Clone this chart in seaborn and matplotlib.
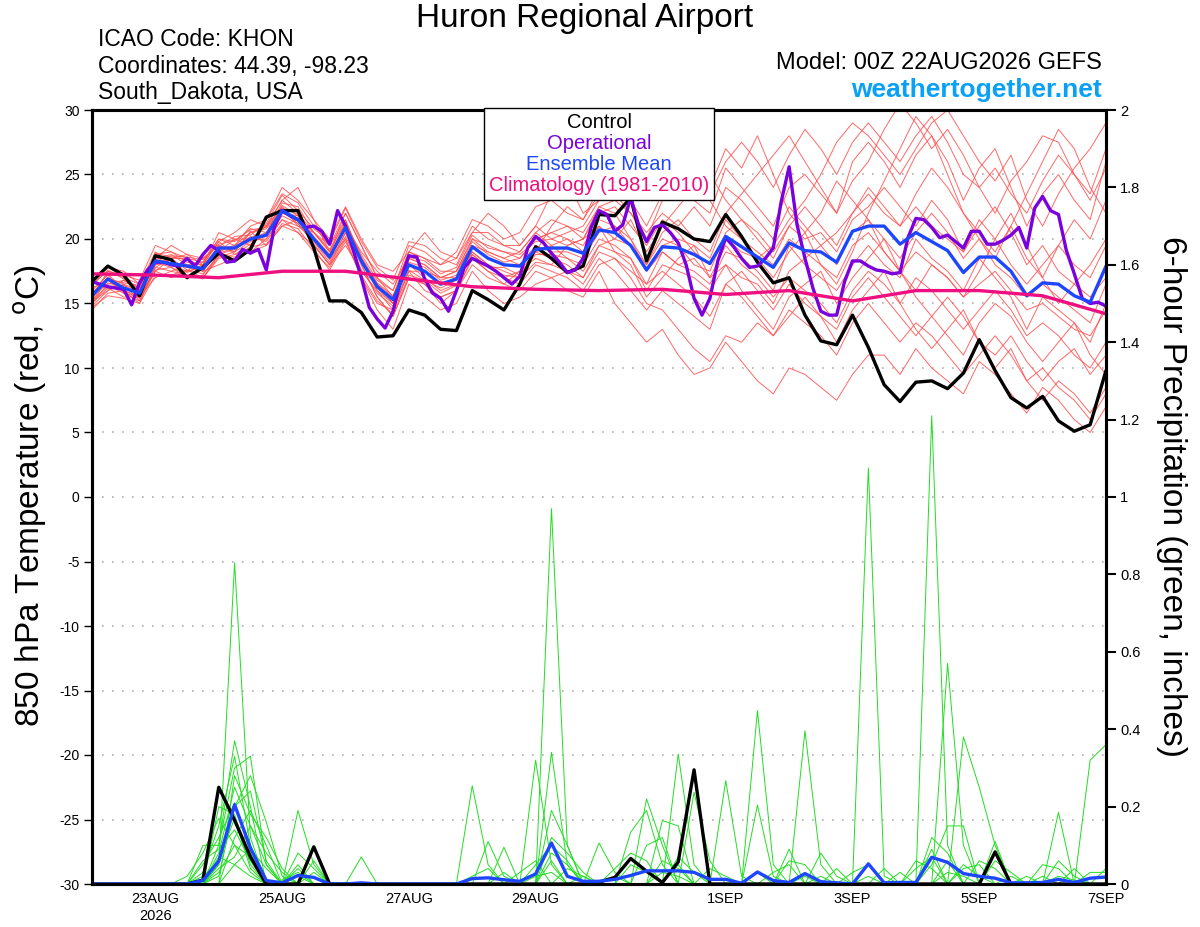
import numpy as np
import pandas as pd
import matplotlib
matplotlib.use('Agg')
import matplotlib.pyplot as plt
import seaborn as sns
from matplotlib.lines import Line2D

# ---- data ----
times6 = pd.date_range('2026-08-22 00:00', periods=65, freq='6h')
times3 = pd.date_range('2026-08-22 00:00', periods=129, freq='3h')
days = pd.date_range('2026-08-22', periods=17, freq='D')

control_temp = [16.7, 17.9, 17.2, 15.6, 18.7, 18.4, 17.0, 17.8, 18.9, 18.3,
                19.2, 21.7, 22.2, 22.2, 19.3, 15.2, 15.2, 14.3, 12.4, 12.5,
                14.5, 14.1, 13.0, 12.9, 16.0, 15.3, 14.5, 16.5, 19.4, 18.5,
                17.4, 17.9, 21.9, 21.8, 23.2, 18.3, 21.3, 20.8, 20.0, 19.8,
                21.9, 20.2, 18.2, 16.6, 17.0, 14.1, 12.1, 11.8, 14.1, 11.6,
                8.7, 7.4, 8.9, 9.0, 8.4, 9.6, 12.2, 9.8, 7.7, 6.9,
                7.8, 5.9, 5.1, 5.6, 9.8]

# operational run is 3-hourly
oper_temp = [16.7, 16.5, 16.3, 16.2, 16.1, 14.9, 16.6, 17.6, 18.2, 18.2,
             18.0, 17.9, 18.5, 17.9, 18.8, 19.5, 19.1, 18.2, 18.3, 19.2,
             18.9, 19.2, 17.6, 20.9, 22.2, 21.8, 21.5, 20.9, 21.0, 20.6,
             19.6, 22.2, 21.0, 19.1, 17.0, 14.7, 13.8, 13.1, 14.4, 16.9,
             18.7, 18.6, 16.9, 15.8, 15.4, 14.4, 16.0, 17.8, 18.5, 18.2,
             17.9, 17.5, 17.0, 16.5, 17.1, 19.3, 20.2, 19.7, 18.9, 18.2,
             17.4, 17.6, 18.5, 20.9, 22.2, 21.9, 20.6, 21.1, 23.2, 21.1,
             19.8, 20.9, 21.1, 20.5, 19.7, 18.0, 15.4, 14.1, 15.4, 18.3,
             20.1, 19.4, 18.5, 17.8, 17.9, 18.5, 19.3, 22.9, 25.6, 21.1,
             18.5, 16.2, 14.4, 14.1, 14.1, 16.7, 18.3, 18.3, 17.9, 17.6,
             17.5, 17.3, 17.4, 20.1, 21.6, 21.5, 20.9, 20.1, 20.3, 19.8,
             19.3, 20.6, 20.6, 19.6, 19.6, 19.9, 20.3, 20.9, 19.3, 22.4,
             23.3, 22.2, 21.9, 19.1, 17.3, 15.4, 15.0, 15.1, 14.8]

mean_temp = [15.6, 16.9, 16.2, 15.8, 18.3, 18.1, 17.9, 17.7, 19.3, 19.3,
             20.0, 20.3, 22.2, 21.5, 20.0, 18.6, 20.9, 18.3, 16.3, 15.3,
             18.0, 17.5, 16.5, 16.9, 19.4, 18.5, 18.0, 17.9, 19.2, 19.3,
             19.3, 18.9, 20.7, 20.5, 19.5, 17.6, 19.4, 19.3, 18.8, 18.1,
             20.2, 19.4, 18.6, 17.8, 19.7, 19.1, 19.0, 18.2, 20.6, 21.0,
             21.0, 19.6, 20.5, 19.8, 19.1, 17.4, 18.6, 18.6, 17.5, 15.6,
             16.6, 16.5, 15.6, 15.1, 17.9]

clim_temp = [17.3, 17.2, 17.0, 17.5, 17.5, 16.9, 16.3, 16.1, 16.0,
             16.1, 15.7, 16.0, 15.2, 16.0, 16.0, 15.6, 14.2]

member_temps = [
    [15.0, 16.5, 16.8, 16.0, 18.5, 18.8, 18.0, 18.2, 20.0, 19.5, 21.0, 21.5, 23.5, 22.8, 21.0, 19.5, 22.0,
     19.5, 17.0, 16.0, 19.5, 19.0, 18.0, 19.0, 21.5, 21.0, 20.0, 20.5, 22.5, 23.0, 22.0, 21.5, 24.0,
     23.5, 22.0, 20.0, 23.0, 24.5, 23.0, 22.0, 25.5, 24.0, 22.5, 21.0, 24.0, 25.0, 23.5, 22.0, 26.0,
     27.5, 26.0, 24.0, 26.5, 28.0, 26.0, 23.0, 25.5, 27.0, 24.0, 21.0, 23.5, 25.0, 23.0, 21.5, 26.0],
    [16.0, 17.2, 15.8, 15.5, 17.8, 17.5, 17.2, 17.0, 18.5, 18.8, 19.0, 19.5, 21.0, 20.5, 19.0, 17.8, 20.0,
     17.0, 14.5, 13.0, 16.5, 15.5, 14.5, 15.0, 17.5, 16.0, 15.0, 15.5, 16.5, 17.0, 16.0, 15.5, 17.5,
     15.0, 13.5, 12.0, 13.0, 11.0, 9.5, 10.0, 12.0, 10.5, 9.0, 8.0, 10.0, 9.5, 8.5, 7.5, 9.5,
     11.0, 11.0, 9.5, 11.5, 10.0, 9.0, 8.0, 10.5, 9.5, 8.0, 6.5, 8.5, 7.5, 6.0, 5.0, 7.0],
    [14.8, 16.0, 16.5, 15.2, 17.5, 18.5, 18.8, 18.0, 19.8, 20.5, 21.5, 21.0, 23.0, 24.0, 21.5, 20.0, 22.5,
     20.0, 18.0, 17.5, 19.0, 20.5, 19.0, 18.5, 20.5, 22.0, 21.0, 19.5, 21.0, 23.5, 24.5, 22.0, 23.0,
     25.0, 27.0, 24.5, 26.0, 28.5, 26.0, 24.0, 27.0, 25.5, 28.0, 25.0, 22.0, 20.5, 18.0, 16.5, 19.0,
     22.0, 24.5, 27.0, 29.5, 28.0, 25.0, 22.0, 20.0, 18.5, 21.0, 23.5, 26.0, 28.5, 27.0, 24.0, 22.0],
    [15.5, 17.5, 17.0, 16.5, 19.0, 18.0, 17.5, 18.5, 19.5, 19.0, 20.5, 21.0, 22.5, 21.0, 20.5, 19.0, 21.5,
     18.0, 15.5, 14.0, 17.0, 16.5, 15.0, 16.0, 18.0, 17.0, 16.5, 17.5, 18.5, 18.0, 19.5, 20.0, 21.0,
     19.0, 18.0, 15.5, 17.0, 18.5, 19.5, 17.0, 18.0, 16.0, 14.5, 13.0, 15.5, 16.5, 17.5, 15.0, 17.0,
     18.5, 20.0, 17.5, 15.5, 14.0, 12.5, 11.0, 13.5, 15.0, 14.0, 12.0, 10.5, 12.0, 13.5, 11.0, 9.5],
    [16.2, 16.8, 16.0, 15.0, 18.0, 18.5, 18.5, 17.5, 19.0, 20.0, 20.0, 20.5, 22.0, 21.8, 19.5, 18.0, 20.5,
     17.5, 16.0, 15.0, 18.0, 17.0, 16.0, 16.5, 19.0, 18.0, 17.5, 17.0, 19.0, 18.5, 18.0, 17.0, 19.5,
     20.0, 21.5, 19.0, 21.0, 22.5, 24.0, 23.0, 21.0, 20.0, 18.5, 17.0, 19.0, 20.5, 22.0, 24.5, 23.0,
     21.5, 19.0, 17.5, 16.0, 18.0, 17.0, 15.5, 17.5, 20.0, 22.0, 19.5, 17.0, 15.0, 16.5, 18.0, 20.0],
    [15.2, 16.0, 16.8, 16.2, 18.8, 19.0, 18.2, 18.0, 20.5, 20.0, 19.5, 21.5, 24.0, 23.0, 21.5, 19.0, 21.0,
     19.0, 17.5, 16.5, 18.5, 18.0, 17.0, 17.5, 20.0, 19.5, 19.0, 18.5, 20.0, 20.5, 21.0, 20.5, 22.5,
     22.0, 20.0, 18.0, 20.5, 21.5, 20.0, 19.0, 22.0, 23.5, 25.0, 26.5, 28.0, 26.0, 24.0, 22.0, 24.5,
     26.0, 28.5, 30.5, 29.0, 27.0, 28.5, 26.5, 24.0, 22.0, 24.5, 26.0, 28.0, 27.5, 25.0, 23.5, 27.0],
    [15.8, 17.0, 16.5, 16.0, 18.2, 17.8, 17.0, 17.2, 18.8, 19.2, 20.2, 19.8, 21.5, 21.0, 20.0, 18.5, 20.0,
     17.0, 15.0, 14.5, 17.5, 16.0, 15.5, 16.0, 18.5, 17.5, 17.0, 16.5, 18.0, 17.5, 17.0, 16.0, 18.0,
     18.5, 17.0, 15.0, 14.5, 13.0, 11.5, 10.5, 12.5, 12.0, 13.5, 12.5, 14.0, 15.5, 14.0, 12.0, 14.5,
     16.0, 17.5, 15.0, 13.0, 11.5, 13.0, 14.5, 12.0, 10.0, 11.5, 9.0, 7.5, 9.0, 8.0, 6.5, 8.5],
    [15.0, 16.2, 15.5, 15.5, 17.0, 17.5, 18.0, 17.5, 18.0, 18.5, 19.0, 20.0, 21.5, 20.5, 19.5, 18.0, 19.5,
     17.5, 16.5, 15.5, 18.0, 17.5, 17.0, 17.0, 19.5, 18.5, 18.0, 18.0, 19.5, 19.0, 19.0, 18.5, 20.5,
     21.0, 19.5, 17.5, 19.5, 20.0, 19.5, 18.5, 21.5, 20.0, 19.0, 18.0, 20.0, 19.0, 18.0, 17.0, 19.5,
     20.5, 19.0, 17.5, 19.0, 18.0, 17.0, 15.5, 16.5, 17.5, 16.0, 14.5, 15.0, 14.0, 13.0, 12.5, 14.5],
    [16.5, 17.5, 17.2, 16.8, 19.5, 19.0, 18.5, 18.2, 20.0, 19.8, 20.8, 20.5, 22.8, 22.5, 20.5, 19.0, 22.0,
     19.5, 17.0, 15.5, 19.0, 18.5, 17.5, 17.5, 19.5, 19.0, 18.5, 19.0, 20.5, 19.5, 18.5, 18.0, 20.0,
     19.5, 18.5, 16.5, 19.0, 18.0, 17.5, 16.5, 19.0, 18.5, 17.5, 16.0, 19.5, 18.0, 17.0, 16.0, 18.0,
     19.5, 18.0, 17.0, 20.0, 18.5, 17.5, 16.0, 18.5, 17.0, 15.5, 13.0, 15.5, 14.5, 13.5, 12.0, 15.0],
    [14.5, 15.8, 16.0, 15.6, 17.5, 17.0, 17.5, 17.8, 19.0, 19.5, 20.0, 21.0, 23.0, 22.0, 20.5, 19.5, 21.5,
     18.5, 16.5, 15.0, 18.5, 18.0, 17.0, 17.5, 20.0, 19.0, 18.5, 18.0, 19.0, 21.0, 22.5, 21.5, 23.5,
     24.5, 23.0, 21.0, 23.5, 25.5, 27.0, 25.0, 23.0, 21.5, 20.0, 18.5, 21.0, 22.5, 21.0, 19.5, 22.0,
     24.0, 22.5, 21.0, 23.5, 25.5, 24.0, 22.0, 20.5, 19.0, 21.0, 18.5, 17.0, 19.5, 21.5, 20.0, 23.0],
    [16.8, 17.8, 17.5, 16.5, 18.5, 19.5, 18.8, 18.5, 19.5, 19.0, 19.8, 20.2, 22.0, 21.5, 20.0, 18.5, 21.0,
     18.5, 16.0, 14.5, 17.5, 17.5, 16.5, 17.0, 19.0, 18.0, 17.0, 17.5, 19.0, 19.5, 20.0, 19.0, 21.0,
     20.0, 19.5, 18.0, 20.0, 19.5, 18.0, 17.5, 20.5, 21.5, 20.5, 19.0, 21.0, 20.0, 20.5, 19.0, 21.5,
     22.5, 24.0, 22.5, 21.0, 23.0, 21.5, 19.0, 21.0, 22.5, 20.5, 18.0, 19.5, 17.5, 16.5, 15.5, 17.0],
    [15.4, 16.6, 16.2, 15.8, 18.0, 18.2, 17.8, 17.5, 19.2, 19.5, 20.5, 20.8, 22.2, 21.2, 19.8, 18.2, 20.5,
     18.0, 15.5, 14.0, 17.0, 16.5, 15.5, 16.0, 18.5, 17.5, 16.5, 16.0, 17.5, 17.0, 17.5, 16.5, 18.5,
     17.5, 16.0, 14.5, 16.0, 15.0, 14.0, 13.0, 16.5, 17.5, 16.0, 14.5, 16.5, 15.0, 14.0, 13.0, 15.5,
     17.0, 15.5, 14.0, 12.5, 14.0, 15.5, 14.0, 12.0, 11.0, 12.5, 10.5, 9.0, 10.5, 11.5, 9.5, 11.0],
    [15.9, 16.4, 15.8, 15.2, 17.8, 18.5, 17.6, 17.0, 18.6, 19.0, 20.6, 19.5, 21.0, 21.5, 20.5, 19.2, 21.2,
     18.8, 16.8, 16.0, 19.0, 18.5, 18.0, 18.5, 21.0, 20.0, 19.5, 19.5, 21.0, 20.0, 19.5, 20.0, 22.0,
     22.5, 21.0, 19.5, 21.5, 20.5, 19.0, 18.0, 20.0, 19.0, 18.5, 19.5, 21.5, 23.0, 25.0, 27.5, 29.0,
     28.0, 26.5, 25.0, 27.0, 29.0, 30.0, 28.0, 26.0, 24.5, 26.5, 23.0, 21.0, 23.5, 25.5, 27.0, 29.0],
    [15.1, 16.9, 16.6, 16.4, 18.6, 18.0, 17.4, 18.0, 19.8, 18.8, 19.6, 20.4, 22.6, 21.8, 20.2, 18.8, 20.8,
     18.2, 16.2, 15.0, 18.2, 17.8, 16.8, 17.2, 19.8, 18.8, 18.2, 18.5, 20.0, 20.5, 20.0, 19.5, 21.5,
     21.0, 20.0, 17.5, 19.0, 18.0, 18.5, 17.0, 19.5, 18.0, 17.0, 15.5, 17.0, 16.0, 15.0, 13.5, 16.0,
     17.5, 16.5, 15.0, 17.0, 16.0, 14.5, 13.0, 14.5, 16.0, 14.5, 12.5, 13.5, 12.5, 11.0, 10.0, 12.0],
    [16.4, 17.6, 16.9, 16.2, 18.9, 18.6, 18.4, 17.9, 19.4, 20.2, 20.3, 21.2, 23.4, 22.2, 20.8, 19.8, 22.4,
     19.8, 17.8, 16.8, 19.8, 19.5, 18.5, 18.0, 20.5, 20.5, 19.5, 19.0, 20.5, 21.5, 21.0, 20.0, 22.5,
     23.0, 22.0, 20.5, 22.0, 21.0, 22.5, 21.0, 24.0, 23.0, 21.5, 20.0, 22.5, 21.0, 19.5, 18.0, 20.5,
     21.5, 20.0, 18.5, 20.5, 22.0, 20.5, 18.5, 20.0, 18.0, 17.0, 15.5, 16.5, 15.5, 14.5, 13.5, 16.5],
    [14.7, 15.6, 15.4, 15.0, 17.2, 17.2, 17.6, 17.3, 18.7, 18.6, 19.4, 19.6, 21.2, 20.8, 19.2, 17.6, 19.8,
     17.2, 15.2, 14.2, 17.2, 16.8, 16.2, 16.8, 18.8, 17.8, 17.8, 17.2, 18.8, 18.8, 18.5, 17.5, 19.5,
     19.0, 18.5, 16.0, 18.0, 17.5, 17.0, 16.0, 18.0, 17.0, 16.5, 15.0, 17.5, 18.5, 19.5, 20.5, 22.0,
     23.5, 22.0, 21.0, 22.5, 21.0, 20.0, 19.0, 21.5, 20.0, 18.0, 16.5, 18.0, 19.5, 18.0, 17.0, 19.5],
    [15.3, 16.3, 16.4, 15.9, 18.4, 18.7, 18.6, 18.4, 19.6, 19.9, 20.7, 20.9, 22.4, 21.9, 19.9, 18.4, 21.3,
     18.6, 16.6, 15.6, 18.6, 18.3, 17.3, 17.8, 20.3, 19.3, 19.0, 18.8, 19.8, 20.0, 20.5, 21.0, 23.0,
     24.0, 25.5, 23.0, 24.5, 26.0, 25.0, 23.5, 26.0, 27.5, 26.0, 24.0, 26.5, 28.5, 27.0, 25.0, 27.5,
     29.0, 27.5, 26.0, 28.0, 29.5, 27.5, 25.0, 24.0, 25.5, 23.5, 22.0, 24.5, 26.5, 25.0, 23.0, 25.5],
    [15.7, 17.3, 16.0, 15.4, 17.6, 17.8, 17.2, 16.9, 18.9, 19.3, 19.9, 20.0, 21.8, 21.2, 19.6, 18.0, 20.2,
     17.6, 15.8, 14.8, 17.6, 16.8, 15.8, 16.4, 18.8, 17.8, 17.2, 17.0, 18.2, 18.0, 17.5, 17.0, 19.0,
     18.5, 17.5, 16.5, 17.5, 16.5, 15.5, 14.0, 16.5, 15.5, 14.0, 12.5, 14.5, 13.5, 12.5, 11.0, 13.5,
     15.0, 13.5, 12.0, 13.5, 12.5, 11.0, 9.5, 11.0, 12.5, 11.0, 9.0, 10.0, 8.5, 7.5, 6.0, 8.0],
]

control_precip_spikes = [(7, .01), (8, .25), (9, .165), (10, .07), (14, .096),
                         (32, .005), (33, .017), (34, .066), (35, .033), (36, .004),
                         (37, .057), (38, .295), (57, .083)]

mean_precip = [0, 0, 0, 0, 0, 0, 0, .009, .059, .205,
               .093, .009, .003, .022, .017, 0, 0, .003, 0, 0,
               0, 0, 0, 0, .014, .016, .011, .007, .026, .106,
               .02, .007, .007, .012, .022, .034, .034, .034, .03, .012,
               .012, .002, .031, .009, .004, .027, .006, .003, 0, .052,
               .003, .004, .004, .069, .056, .027, .02, .015, .003, .003,
               .004, .012, .004, .015, .018]

# ensemble precip members: (6-hour step, inches); other steps are zero
member_precip_spikes = [
    [(8, .05), (9, .83), (10, .12), (29, .97), (30, .1), (37, .05)],
    [(8, .1), (9, .37), (10, .2), (13, .05), (28, .32), (29, .05), (42, .448), (43, .05), (53, 1.21), (54, .1)],
    [(7, .1), (8, .1), (9, .3), (10, .33), (11, .05), (24, .254), (25, .05), (35, .22), (36, .1), (49, 1.075), (50, .02)],
    [(8, .05), (9, .2), (10, .28), (11, .16), (12, .02), (29, .34), (30, .05), (37, .336), (38, .05), (54, .57), (55, .1), (61, .185)],
    [(7, .03), (8, .15), (9, .33), (10, .1), (13, .19), (14, .05), (29, .19), (30, .1), (45, .396), (46, .05), (55, .38), (56, .25), (57, .1)],
    [(8, .2), (9, .18), (10, .05), (17, .07), (25, .11), (26, .02), (40, .267), (41, .02), (63, .32), (64, .36)],
    [(6, .02), (7, .08), (8, .17), (9, .1), (10, .03), (26, .095), (38, .237), (39, .06), (42, .204), (43, .02), (57, .11)],
    [(8, .08), (9, .25), (10, .15), (11, .05), (32, .106), (33, .03), (36, .164), (37, .15), (50, .04), (53, .05), (54, .15), (55, .15)],
    [(7, .05), (8, .12), (9, .21), (10, .08), (14, .06), (34, .134), (35, .19), (36, .05), (44, .09), (52, .04), (53, .07), (60, .05), (61, .04)],
    [(9, .12), (10, .19), (11, .1), (13, .04), (28, .05), (29, .1), (30, .06), (46, .08), (47, .02), (56, .06), (57, .04), (62, .04)],
    [(8, .04), (9, .07), (10, .15), (11, .08), (12, .03), (27, .03), (28, .06), (35, .1), (36, .12), (51, .03), (53, .12), (54, .08), (59, .02)],
    [(7, .02), (8, .06), (9, .17), (10, .04), (29, .08), (30, .05), (33, .04), (34, .08), (35, .06), (44, .06), (45, .05), (55, .05), (56, .02), (64, .04)],
    [(8, .03), (9, .1), (10, .07), (14, .03), (24, .02), (25, .04), (29, .06), (37, .07), (38, .03), (48, .03), (49, .05), (57, .06), (58, .03)],
    [(9, .05), (10, .09), (11, .04), (13, .02), (30, .04), (31, .02), (36, .06), (37, .04), (43, .03), (44, .05), (52, .06), (53, .04), (61, .06), (62, .02)],
    [(7, .06), (8, .09), (9, .14), (10, .06), (12, .01), (13, .03), (28, .02), (29, .03), (34, .05), (35, .03), (47, .04), (54, .03), (55, .02), (63, .03), (64, .03)],
    [(8, .02), (9, .2), (10, .24), (11, .06), (26, .03), (33, .02), (39, .04), (40, .02), (46, .02), (53, .09), (58, .02), (60, .02)],
    [(8, .07), (9, .05), (10, .02), (13, .08), (14, .04), (29, .12), (30, .08), (31, .03), (42, .03), (49, .02), (55, .04), (56, .05)],
    [(9, .28), (10, .18), (11, .12), (12, .04), (31, .02), (36, .03), (37, .02), (45, .02), (54, .06), (61, .02), (62, .01)],
]

tick_dates = ['2026-08-23', '2026-08-25', '2026-08-27', '2026-08-29',
              '2026-09-01', '2026-09-03', '2026-09-05', '2026-09-07']
tick_labels = ['23AUG\n2026', '25AUG', '27AUG', '29AUG', '1SEP', '3SEP', '5SEP', '7SEP']
legend_labels = ['Control', 'Operational', 'Ensemble Mean', 'Climatology (1981-2010)']

# ---- style ----
sns.set_style('white')
plt.rcParams['font.family'] = ['Liberation Sans', 'DejaVu Sans']
plt.rcParams['axes.unicode_minus'] = False
plt.rcParams['text.color'] = 'black'
plt.rcParams['xtick.color'] = 'black'
plt.rcParams['ytick.color'] = 'black'
plt.rcParams['axes.labelcolor'] = 'black'

RED = '#ff4d4d'
GREEN = '#22dd22'
PURPLE = '#7a00dc'
BLUE = '#1e46ff'
MAGENTA = '#ee0f80'
legend_colors = ['black', PURPLE, BLUE, MAGENTA]


def spikes_to_series(spikes):
    vals = np.zeros(len(times6))
    for i, v in spikes:
        vals[i] = v
    return vals


fig = plt.figure(figsize=(12, 9.27), dpi=100)
ax = fig.add_axes([92 / 1200, 1 - 884 / 927, 1014 / 1200, 774 / 927])
ax2 = ax.twinx()

# temperature
n = len(member_temps)
temp_df = pd.DataFrame({'time': np.tile(times6, n),
                        'member': np.repeat(np.arange(n), len(times6)),
                        'temp': np.concatenate(member_temps)})
sns.lineplot(data=temp_df, x='time', y='temp', units='member', estimator=None,
             color=RED, lw=0.7, alpha=0.85, ax=ax, legend=False)
sns.lineplot(x=times6, y=control_temp, color='black', lw=2.4, ax=ax)
sns.lineplot(x=times3, y=oper_temp, color=PURPLE, lw=2.4, ax=ax)
sns.lineplot(x=times6, y=mean_temp, color=BLUE, lw=2.4, ax=ax)
sns.lineplot(x=days, y=clim_temp, color=MAGENTA, lw=2.4, ax=ax)

# precipitation
m = len(member_precip_spikes)
precip_df = pd.DataFrame({'time': np.tile(times6, m),
                          'member': np.repeat(np.arange(m), len(times6)),
                          'precip': np.concatenate([spikes_to_series(s) for s in member_precip_spikes])})
sns.lineplot(data=precip_df, x='time', y='precip', units='member', estimator=None,
             color=GREEN, lw=0.7, ax=ax2, legend=False)
sns.lineplot(x=times6, y=spikes_to_series(control_precip_spikes), color='black', lw=2.4, ax=ax2)
sns.lineplot(x=times6, y=mean_precip, color=BLUE, lw=2.4, ax=ax2)

# axes
ax.set_xlim(pd.Timestamp('2026-08-22'), pd.Timestamp('2026-09-07'))
ax.set_ylim(-30, 30)
ax2.set_ylim(0, 2)
ax.set_yticks(range(-30, 31, 5))
ax2.set_yticks(np.arange(0, 2.01, 0.2))
ax2.set_yticklabels([f'{v:g}' for v in np.round(np.arange(0, 2.01, 0.2), 1)])
ax.set_xticks(pd.to_datetime(tick_dates))
ax.set_xticklabels(tick_labels)
ax.set_xlabel('')
ax.set_ylabel('')
ax2.set_ylabel('')
ax.grid(False)
ax2.grid(False)
for yv in range(-25, 30, 5):
    ax.axhline(yv, color='#b0b0b0', lw=1.2, ls=(0, (1, 5)), zorder=0)

ax.tick_params(axis='y', direction='out', length=6, width=1, labelsize=10, pad=3)
ax.tick_params(axis='x', direction='in', length=5, width=1, labelsize=10.5, pad=6)
ax2.tick_params(axis='y', direction='out', length=7, width=1.5, labelsize=10.5, pad=3)
for a in (ax, ax2):
    for s in a.spines.values():
        s.set_linewidth(2.2)
        s.set_color('black')

# legend (text only, centred lines)
handles = [Line2D([], [], color='none') for _ in legend_labels]
leg = ax2.legend(handles, legend_labels, loc='upper center', bbox_to_anchor=(0.5, 1.003),
                 borderaxespad=0, handlelength=0, handletextpad=0, labelcolor=legend_colors,
                 fontsize=14.5, frameon=True, fancybox=False, framealpha=1, edgecolor='black',
                 borderpad=0.25, labelspacing=0.1)
leg.get_frame().set_linewidth(1.0)
for col in leg._legend_handle_box.get_children():
    col.align = 'center'

# titles and labels
fig.text(585 / 1200, 1 - 18 / 927, 'Huron Regional Airport', ha='center', va='center', fontsize=24)
fig.text(98 / 1200, 1 - 40 / 927, 'ICAO Code: KHON', ha='left', va='center', fontsize=16.5)
fig.text(98 / 1200, 1 - 66 / 927, 'Coordinates: 44.39, -98.23', ha='left', va='center', fontsize=16.5)
fig.text(98 / 1200, 1 - 93 / 927, 'South_Dakota, USA', ha='left', va='center', fontsize=16.5)
fig.text(1102 / 1200, 1 - 63 / 927, 'Model: 00Z 22AUG2026 GEFS', ha='right', va='center', fontsize=17)
fig.text(1102 / 1200, 1 - 90 / 927, 'weathertogether.net', ha='right', va='center',
         fontsize=19, fontweight='bold', color='#0aa0f5')
fig.text(30 / 1200, 1 - 496 / 927, '850 hPa Temperature (red, $^\\mathrm{o}$C)', rotation=90,
         ha='center', va='center', fontsize=24)
fig.text(1172 / 1200, 1 - 496 / 927, '6-hour Precipitation (green, inches)', rotation=270,
         ha='center', va='center', fontsize=24)

fig.savefig('out.png', dpi=100)
